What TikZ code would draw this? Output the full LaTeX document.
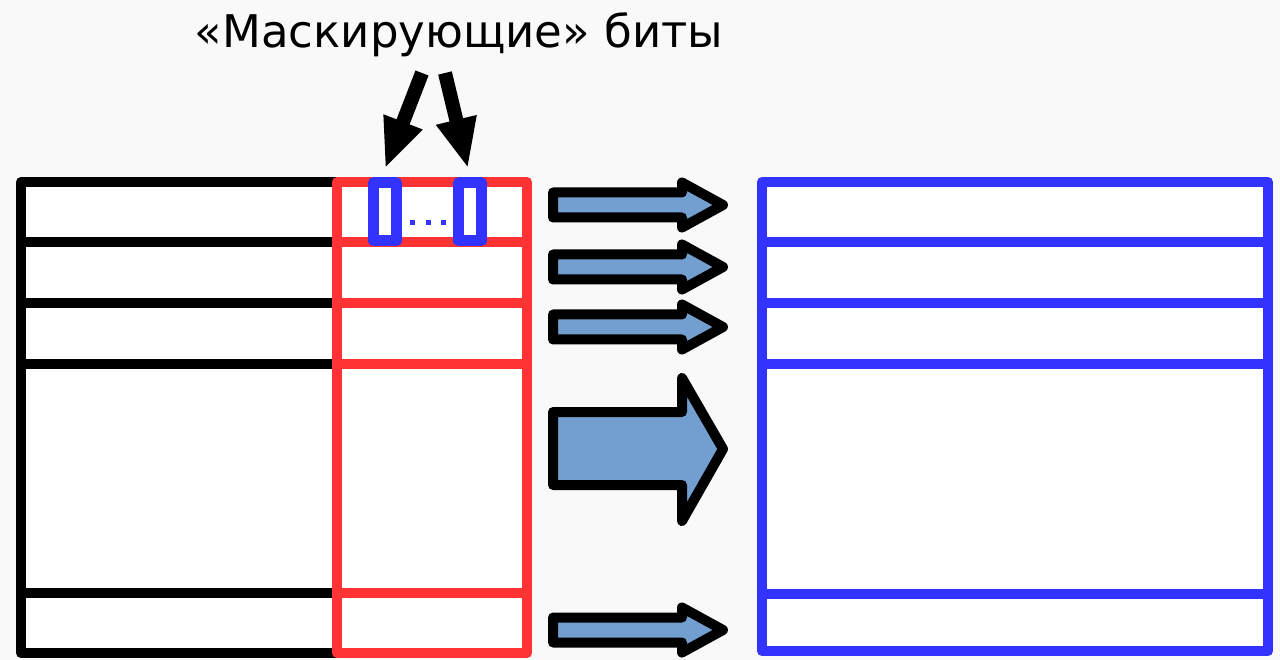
\documentclass[tikz,border=0pt]{standalone}
\usepackage{fontspec}
\setmainfont{DejaVu Sans}
\usetikzlibrary{arrows.meta}
\definecolor{myred}{RGB}{255,51,51}
\definecolor{myblue}{RGB}{51,51,255}
\definecolor{arrowfill}{RGB}{114,159,207}
\definecolor{bgcol}{RGB}{249,249,249}
\begin{document}
\begin{tikzpicture}[x=1pt,y=-1pt,
  tab/.style={line width=10pt, line join=round, line cap=round},
  blacktab/.style={tab, draw=black, fill=white},
  redtab/.style={tab, draw=myred, fill=white},
  bluetab/.style={tab, draw=myblue, fill=white},
  bitbox/.style={draw=myblue, line width=11pt, fill=white, inner sep=0pt, minimum width=23pt, minimum height=58pt, line join=round},
  bitdot/.style={fill=myblue, inner sep=0pt, minimum size=5pt},
  downarrow/.style={line width=14pt, -{Triangle[length=50pt,width=38pt]}},
  blockarrow/.style={draw=black, fill=arrowfill, line width=10pt, line join=round},
  title/.style={font=\fontsize{45pt}{54pt}\selectfont, anchor=base, inner sep=0pt}
]
\useasboundingbox (0,0) rectangle (1280,660);
\fill[bgcol] (0,0) rectangle (1280,660);

% title
\node[title] (title) at (459,48) {«Маскирующие» биты};

% left black table
\draw[blacktab] (21,182) rectangle (337,653);
\foreach \y in {242,303,364,593} \draw[tab, draw=black] (21,\y) -- (337,\y);

% red column
\draw[redtab] (337,182) rectangle (527,653);
\foreach \y in {242,303,364,593} \draw[tab, draw=myred] (337,\y) -- (527,\y);

% right blue table
\draw[bluetab] (762,182) rectangle (1268,651);
\foreach \y in {242,303,364,594} \draw[tab, draw=myblue] (762,\y) -- (1268,\y);

% mask bits
\node[bitbox] (b1) at (385,212) {};
\node[bitbox] (b2) at (470,212) {};
\node[bitdot] (d1) at (412,223) {};
\node[bitdot] (d2) at (428,223) {};
\node[bitdot] (d3) at (443,223) {};

% arrows from title to bits
\coordinate (t1) at (422,73);
\coordinate (t2) at (445,73);
\draw[downarrow] (t1) -- ([yshift=9pt]b1.north);
\draw[downarrow] (t2) -- ([yshift=9pt,xshift=-2pt]b2.north);

% block arrows
\foreach \c in {205,267,327,630}
  \draw[blockarrow] (553,\c-12.5) -- (682,\c-12.5) -- (682,\c-22.5) -- (723,\c)
     -- (682,\c+22.5) -- (682,\c+12.5) -- (553,\c+12.5) -- cycle;
\draw[blockarrow] (553,412) -- (682,412) -- (682,378) -- (723,449)
     -- (682,521) -- (682,485) -- (553,485) -- cycle;
\end{tikzpicture}
\end{document}
